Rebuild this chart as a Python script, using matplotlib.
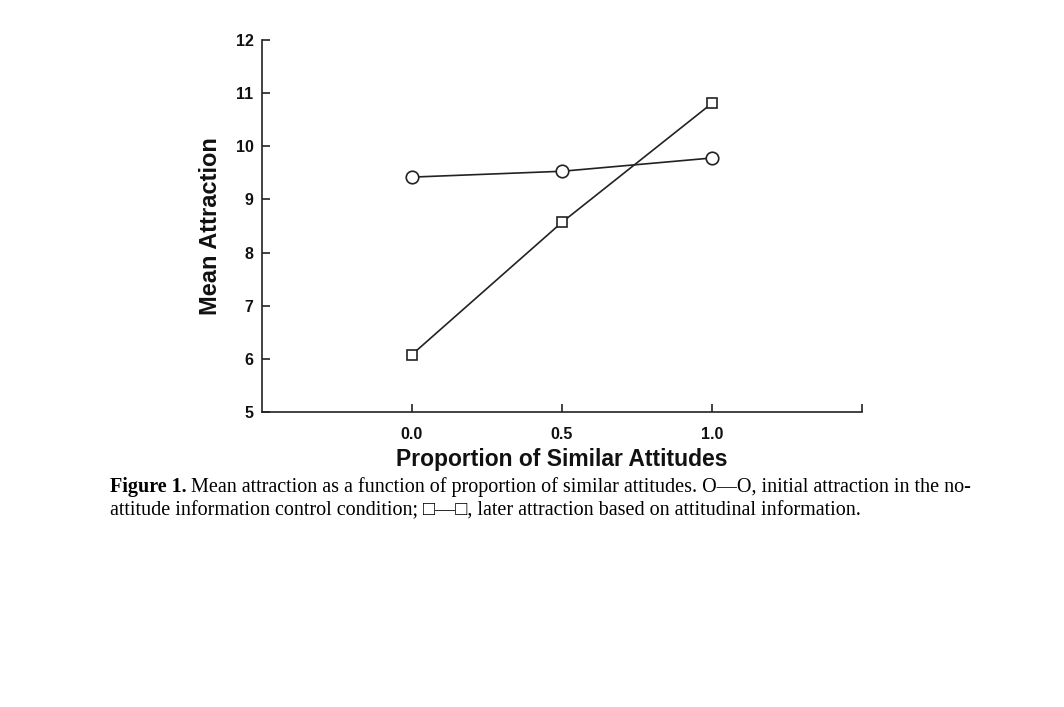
import matplotlib.pyplot as plt

# Datos
proporcion = [0.0, 0.5, 1.0]
inicial = [9.42, 9.53, 9.78]   # O--O, control sin informacion
posterior = [6.08, 8.57, 10.81]  # cuadrados, informacion actitudinal
yticks = [5, 6, 7, 8, 9, 10, 11, 12]
xticklabels = ["0.0", "0.5", "1.0"]

fig = plt.figure(figsize=(10.64, 7.07), dpi=100)
ax = fig.add_axes([0.2462, 0.4173, 0.564, 0.5261])

color = "#222222"
ax.plot(proporcion, inicial, color=color, lw=1.2, marker="o", ms=9,
        mfc="white", mec=color, mew=1.2)
ax.plot(proporcion, posterior, color=color, lw=1.2, marker="s", ms=7,
        mfc="white", mec=color, mew=1.2)

ax.set_xlim(-0.5, 1.5)
ax.set_ylim(5, 12)
ax.set_yticks(yticks)
ax.set_xticks(proporcion)
ax.set_xticklabels(xticklabels)
ax.set_xticks([1.5], minor=True)

ax.spines["top"].set_visible(False)
ax.spines["right"].set_visible(False)
for s in ["left", "bottom"]:
    ax.spines[s].set_color(color)
    ax.spines[s].set_linewidth(1.2)

ax.tick_params(axis="both", which="both", direction="in", length=6,
               width=1.2, color=color)
ax.tick_params(axis="x", pad=11)
ax.tick_params(axis="y", pad=6)
for lab in ax.get_xticklabels() + ax.get_yticklabels():
    lab.set_fontfamily("Liberation Sans")
    lab.set_fontweight("bold")
    lab.set_fontsize(11.5)
    lab.set_color("#111111")

ax.set_xlabel("Proportion of Similar Attitudes", family="Liberation Sans",
              fontweight="bold", fontsize=16.5, labelpad=4, color="#111111")
ax.set_ylabel("Mean Attraction", family="Liberation Sans",
              fontweight="bold", fontsize=17, labelpad=10, color="#111111")

# Pie de figura
x0 = 110 / 1064
cap = dict(family="Liberation Serif", fontsize=14.5, ha="left", va="baseline")
t = fig.text(x0, 1 - 492 / 707, "Figure 1.", fontweight="bold", **cap)
r = fig.canvas.get_renderer()
bb = t.get_window_extent(renderer=r)
fig.text((bb.x1 + 4) / 1064, 1 - 492 / 707,
         "Mean attraction as a function of proportion of similar attitudes. O—O, initial attraction in the no-",
         **cap)
fig.text(x0, 1 - 515 / 707,
         "attitude information control condition; □—□, later attraction based on attitudinal information.",
         **cap)

fig.savefig("out.png", dpi=100)
